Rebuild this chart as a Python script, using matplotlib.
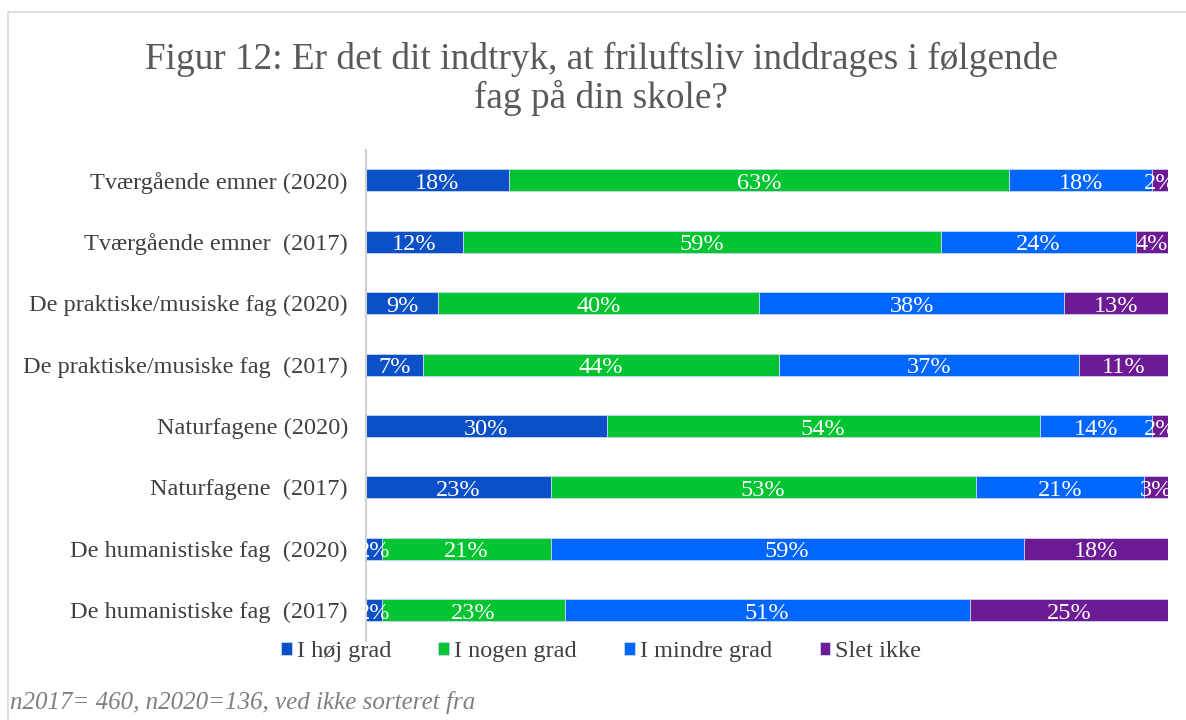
import numpy as np
import matplotlib
matplotlib.use('Agg')
import matplotlib.pyplot as plt
from matplotlib.patches import Rectangle

plt.rcParams['font.family'] = ['Liberation Serif', 'DejaVu Serif']

# categories, top to bottom
categories = ['Tværgående emner (2020)', 'Tværgående emner  (2017)',
              'De praktiske/musiske fag (2020)', 'De praktiske/musiske fag  (2017)',
              'Naturfagene (2020)', 'Naturfagene  (2017)',
              'De humanistiske fag  (2020)', 'De humanistiske fag  (2017)']
series = ['I høj grad', 'I nogen grad', 'I mindre grad', 'Slet ikke']
hoj = [18, 12, 9, 7, 30, 23, 2, 2]
nogen = [63, 59, 40, 44, 54, 53, 21, 23]
mindre = [18, 24, 38, 37, 14, 21, 59, 51]
slet = [2, 4, 13, 11, 2, 3, 18, 25]
colors = ['#0b50c6', '#00c531', '#0066ff', '#6d1a95']

vals = np.array([hoj, nogen, mindre, slet], dtype=float)
shares = vals / vals.sum(axis=0) * 100

fig = plt.figure(figsize=(11.86, 7.2), dpi=100)
fig.patches.append(Rectangle((8 / 1186, -0.1), 1.2, 1.1 - 12 / 720,
                             transform=fig.transFigure, fill=False,
                             edgecolor='#d9d9d9', linewidth=1.2))
ax = fig.add_axes([0.3086, 0.110, 0.6764, 0.682])

y = np.arange(len(categories))
left = np.zeros(len(categories))
for i, name in enumerate(series):
    ax.barh(y, shares[i], left=left, height=0.36, color=colors[i],
            edgecolor='#c8d4f0', linewidth=0.6, label=name)
    for j in range(len(categories)):
        ax.text(left[j] + shares[i][j] / 2, y[j] + 0.05, f'{int(vals[i][j])}%',
                ha='center', va='center', color='white', fontsize=17.5)
    left += shares[i]

ax.set_xlim(0, 100)
ax.set_ylim(len(categories) - 0.5, -0.5)
ax.set_yticks(y)
ax.set_yticklabels(categories, fontsize=17.5, color='#404040')
ax.tick_params(axis='y', length=0, pad=13)
ax.set_xticks([])
for s in ['top', 'right', 'bottom']:
    ax.spines[s].set_visible(False)
ax.spines['left'].set_color('#d0d0d0')
ax.spines['left'].set_linewidth(1.5)

fig.text(0.507, 1 - 79 / 720, 'Figur 12: Er det dit indtryk, at friluftsliv inddrages i følgende\nfag på din skole?',
         ha='center', va='center', fontsize=26.8, color='#595959', linespacing=1.12)

ax.legend(loc='center', bbox_to_anchor=(0.293, -0.022), ncol=4, frameon=False,
          fontsize=17.5, labelcolor='#404040', handlelength=0.45, handleheight=0.45,
          handletextpad=0.2, columnspacing=1.95)

fig.text(10 / 1186, 1 - 703 / 720, 'n2017= 460, n2020=136, ved ikke sorteret fra',
         ha='left', va='center', fontsize=18, style='italic', color='#7f7f7f')

fig.savefig('out.png', dpi=100)
